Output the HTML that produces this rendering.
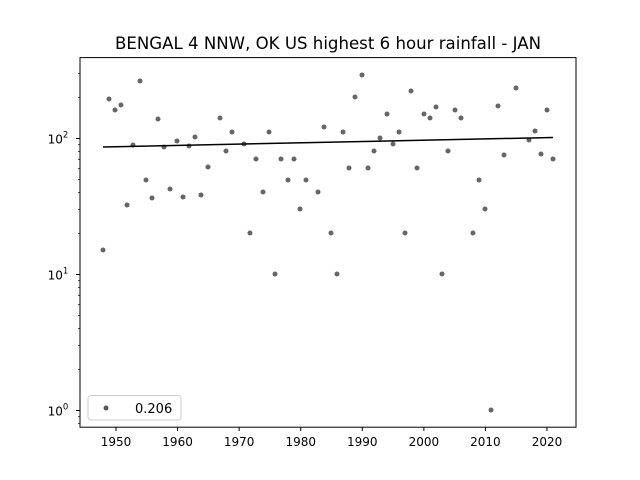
<!DOCTYPE html>
<html><head><meta charset="utf-8"><style>body{margin:0;background:#fff}svg{display:block;font-family:"DejaVu Sans","Liberation Sans",sans-serif}</style></head>
<body>
<svg id="s" width="640" height="480" xmlns="http://www.w3.org/2000/svg">
<rect width="640" height="480" fill="#fff"/>
<text x="328" y="49" font-size="16.6" text-anchor="middle">BENGAL 4 NNW, OK US highest 6 hour rainfall - JAN</text>
<g id="g"></g>
<rect x="80" y="57.6" width="496" height="369.6" fill="none" stroke="#000" stroke-width="1"/>
<rect x="88" y="395.5" width="93" height="24.5" rx="3" fill="#fff" stroke="#ccc"/>
<circle cx="106" cy="408" r="2.5" fill="#555"/>
<text x="135" y="413" font-size="13">0.206</text>
</svg>
<script>
const g=document.getElementById('g');let h='';
const Y=v=>410.5-136*Math.log10(v);
for(let y=1950;y<=2020;y+=10){const x=116+(y-1950)*431/70;h+=`<line x1="${x}" y1="427" x2="${x}" y2="431" stroke="#000"/><text x="${x}" y="446" font-size="12" text-anchor="middle">${y}</text>`;}
for(let e=0;e<=2;e++){const y=Y(Math.pow(10,e));h+=`<line x1="76" y1="${y}" x2="80" y2="${y}" stroke="#000"/><text x="58" y="${y+5}" font-size="12" text-anchor="middle">10<tspan font-size="8.5" dy="-6">${e}</tspan></text>`;}
for(let e=-1;e<=2;e++)for(let m=2;m<=9;m++){const y=Y(m*Math.pow(10,e));if(y>57.6&&y<427)h+=`<line x1="78" y1="${y}" x2="80" y2="${y}" stroke="#000" stroke-width="0.7"/>`;}
const p=[[103,250],[109,99],[115,110],[121,105],[127,205],[133,145],[140,81],[146,180],[152,198],[158,119],[164,147],[170,189],[177,141],[183,197],[189,146],[195,137],[201,195],[208,167],[220,118],[226,151],[232,132],[244,144],[250,233],[256,159],[263,192],[269,132],[275,274],[281,159],[288,180],[294,159],[300,209],[306,180],[318,192],[324,127],[331,233],[337,274],[343,132],[349,168],[355,97],[362,75],[368,168],[374,151],[380,138],[387,114],[393,144],[399,132],[405,233],[411,91],[417,168],[424,114],[430,118],[436,107],[442,274],[448,151],[455,110],[461,118],[473,233],[479,180],[485,209],[491,410],[498,106],[504,155],[516,88],[529,140],[535,131],[541,154],[547,110],[553,159]];
p.forEach(([x,y])=>h+=`<circle cx="${x}" cy="${y}" r="2.5" fill="#555" fill-opacity="0.9"/>`);
h+=`<line x1="103" y1="147" x2="553" y2="137.5" stroke="#000" stroke-width="1.5"/>`;
g.innerHTML=h;
</script>
</body></html>
